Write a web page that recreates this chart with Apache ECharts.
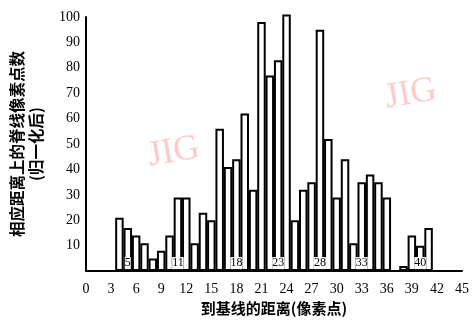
<!DOCTYPE html>
<html><head><meta charset="utf-8">
<script src="https://cdn.jsdelivr.net/npm/echarts@6/dist/echarts.min.js"></script>
<style>html,body{margin:0;padding:0;background:#fff}#c{width:472px;height:321px}</style>
</head><body><div id="c"></div>
<script>
const positions = [4,5,6,7,8,9,10,11,12,13,14,15,16,17,18,19,20,21,22,23,24,25,26,27,28,29,30,31,32,33,34,35,36,37,38,39,40,41];
const counts    = [21,17,14,11,5,8,14,29,29,11,23,20,56,41,44,62,32,98,77,83,101,20,32,35,95,52,29,44,11,35,38,35,29,0,2,14,10,17];
const markedPositions = [5,11,18,23,28,33,40];
const xTicks = [0,3,6,9,12,15,18,21,24,27,30,33,36,39,42,45];
const yTicks = [10,20,30,40,50,60,70,80,90,100];
const yName = '相应距离上的脊线像素点数\n(归一化后)';
const xName = '到基线的距离(像素点)';

const chart = echarts.init(document.getElementById('c'), null, {renderer:'canvas'});
const serif = 'Liberation Serif';
chart.setOption({
  animation:false,
  grid:{left:78, right:10, top:17, bottom:49},
  xAxis:{type:'value', min:0, max:45, interval:3,
    axisLine:{lineStyle:{color:'#000', width:2}},
    axisTick:{show:false}, splitLine:{show:false},
    axisLabel:{color:'#000', fontFamily:serif, fontSize:14, margin:11,
      formatter:v=> xTicks.includes(v) ? String(v) : ''},
    name:xName, nameLocation:'middle', nameGap:27,
    nameTextStyle:{color:'#000', fontSize:15, fontWeight:'bold', fontFamily:'Noto Sans CJK SC'}
  },
  yAxis:{type:'value', min:0, max:100, interval:10,
    axisLine:{show:true, lineStyle:{color:'#000', width:2}},
    axisTick:{show:false}, splitLine:{show:false},
    axisLabel:{color:'#000', fontFamily:serif, fontSize:14, margin:6,
      formatter:v=> yTicks.includes(v) ? String(v) : ''},
    name:yName, nameLocation:'middle', nameGap:40, nameRotate:90,
    nameTextStyle:{color:'#000', fontSize:15.5, fontWeight:'bold', fontFamily:'Noto Sans CJK SC', lineHeight:19}
  },
  graphic:[
    {type:'text', left:145, top:130, rotation:0.17, style:{text:'JIG', font:'36px "Liberation Serif"', fill:'#ffcaca'}},
    {type:'text', left:382, top:72, rotation:0.17, style:{text:'JIG', font:'36px "Liberation Serif"', fill:'#ffcaca'}}
  ],
  series:[{
    type:'bar', clip:false, barWidth:8.5,
    data: positions.map((p,i)=>[p,counts[i]]),
    itemStyle:{color:'#fff', borderColor:'#000', borderWidth:2},
    label:{show:true, position:'insideBottom', distance:2,
      formatter:p=> markedPositions.includes(p.value[0]) ? String(p.value[0]) : '',
      color:'#000', fontFamily:serif, fontSize:12, backgroundColor:'#fff'}
  }]
});
</script></body></html>
